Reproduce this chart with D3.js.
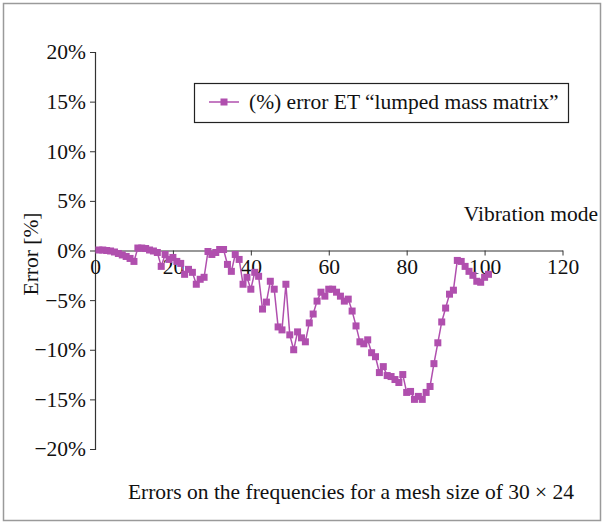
<!DOCTYPE html>
<html>
<head>
<meta charset="utf-8">
<style>
  body { margin: 0; background: #fff; }
  svg text { font-family: "Liberation Serif", "Times New Roman", serif; fill: #111; }
</style>
</head>
<body>
<svg width="605" height="527"></svg>
<script src="https://d3js.org/d3.v7.min.js"></script>
<script>
    // vibration mode numbers and the error (%)
    var modes = d3.range(1, 102);
    var errors = [
        0.05, 0.05, 0.0, -0.05, -0.15, -0.3, -0.45, -0.6, -0.8, -1.1,
        0.25, 0.25, 0.2, 0.05, -0.05, -0.2, -1.6, -0.4, -0.9, -0.7,
        -1.1, -1.3, -2.4, -1.9, -2.2, -3.4, -2.9, -2.7, -0.1, -0.4,
        -0.2, 0.1, 0.1, -1.4, -2.1, -0.4, -0.9, -3.4, -2.7, -3.9,
        -2.2, -2.6, -5.9, -5.2, -3.1, -3.9, -7.7, -8.0, -3.4, -8.5,
        -10.0, -8.2, -8.8, -9.2, -7.3, -6.4, -5.1, -4.2, -4.6, -3.9,
        -3.9, -4.2, -4.6, -5.1, -4.9, -6.1, -7.6, -9.2, -9.4, -9.0,
        -10.3, -10.7, -12.3, -11.7, -12.6, -12.7, -13.0, -13.3, -12.5, -14.3,
        -14.2, -15.0, -14.7, -15.0, -14.3, -13.7, -11.4, -9.3, -7.2, -5.8,
        -4.4, -4.0, -1.0, -1.1, -1.6, -2.1, -2.5, -3.1, -3.2, -2.7,
        -2.4
    ];
    var xTicks = [0, 20, 40, 60, 80, 100, 120];
    var yTicks = [-20, -15, -10, -5, 0, 5, 10, 15, 20];

    var seriesName = "(%) error ET \u201Clumped mass matrix\u201D";
    var xTitle = "Vibration mode";
    var yTitle = "Error [%]";
    var caption = "Errors on the frequencies for a mesh size of 30 \u00D7 24";

    var color = "#b04fae";
    var fs = 21.5;

    var data = modes.map(function (m, i) {
        return {mode: m, err: errors[i]};
    });

    var svg = d3.select("svg");

    // outer frame
    svg.append("rect")
        .attr("x", 3.5).attr("y", 3.5)
        .attr("width", 597).attr("height", 517)
        .attr("fill", "none")
        .attr("stroke", "#9a9a9a")
        .attr("stroke-width", 1.5);

    var x = d3.scaleLinear().domain([0, 120]).range([95, 562.5]);
    var y = d3.scaleLinear().domain([-20, 20]).range([449, 52]);

    var fmtPct = function (d) {
        return (d < 0 ? "\u2212" + Math.abs(d) : d) + "%";
    };

    // y axis
    var yAxis = svg.append("g")
        .attr("transform", "translate(" + x(0) + ",0)")
        .call(d3.axisLeft(y).tickValues(yTicks).tickFormat(fmtPct).tickSize(5).tickPadding(4));
    yAxis.selectAll("text").attr("font-size", fs);
    yAxis.select(".domain").attr("stroke", "#333").attr("stroke-width", 1.2);
    yAxis.selectAll(".tick line").attr("stroke", "#333");

    // x axis sits at 0%
    var xAxis = svg.append("g")
        .attr("transform", "translate(0," + y(0) + ")")
        .call(d3.axisBottom(x).tickValues(xTicks).tickSize(5).tickPadding(3).tickSizeOuter(0));
    xAxis.selectAll("text").attr("font-size", fs);
    xAxis.select(".domain").attr("stroke", "#333").attr("stroke-width", 1.2);
    xAxis.selectAll(".tick line").attr("stroke", "#333");

    // series
    var line = d3.line()
        .x(function (d) { return x(d.mode); })
        .y(function (d) { return y(d.err); });

    svg.append("path")
        .datum(data)
        .attr("fill", "none")
        .attr("stroke", color)
        .attr("stroke-width", 1.5)
        .attr("d", line);

    var ms = 7;
    svg.selectAll("rect.pt")
        .data(data)
        .enter().append("rect")
        .attr("class", "pt")
        .attr("x", function (d) { return x(d.mode) - ms / 2; })
        .attr("y", function (d) { return y(d.err) - ms / 2; })
        .attr("width", ms)
        .attr("height", ms)
        .attr("fill", color);

    // legend
    var lg = svg.append("g").attr("transform", "translate(194,83)");
    lg.append("rect")
        .attr("x", 0.5).attr("y", 0.5)
        .attr("width", 374).attr("height", 39)
        .attr("fill", "#fff")
        .attr("stroke", "#222")
        .attr("stroke-width", 1.2);
    lg.append("line")
        .attr("x1", 15).attr("x2", 45)
        .attr("y1", 19).attr("y2", 19)
        .attr("stroke", color).attr("stroke-width", 1.5);
    lg.append("rect")
        .attr("x", 30 - ms / 2).attr("y", 19 - ms / 2)
        .attr("width", ms).attr("height", ms)
        .attr("fill", color);
    lg.append("text")
        .attr("x", 55).attr("y", 26)
        .attr("font-size", fs)
        .text(seriesName);

    // titles
    svg.append("text")
        .attr("x", 598).attr("y", 221)
        .attr("text-anchor", "end")
        .attr("font-size", fs)
        .text(xTitle);

    svg.append("text")
        .attr("transform", "translate(38,254) rotate(-90)")
        .attr("text-anchor", "middle")
        .attr("font-size", fs)
        .text(yTitle);

    svg.append("text")
        .attr("x", 351).attr("y", 499)
        .attr("text-anchor", "middle")
        .attr("font-size", fs)
        .text(caption);
</script>
</body>
</html>
